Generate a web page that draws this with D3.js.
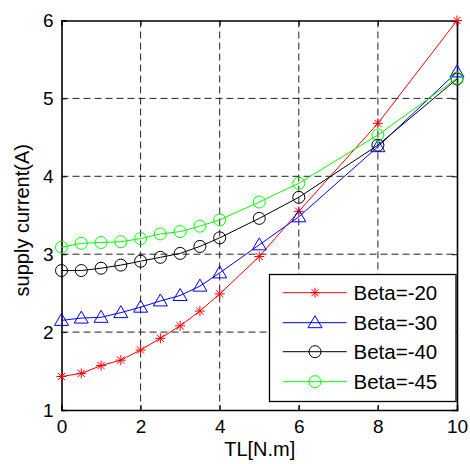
<!DOCTYPE html>
<html><head><meta charset="utf-8">
<script src="https://cdn.jsdelivr.net/npm/d3@7"></script>
<style>body{margin:0;background:#fff}svg{display:block}text{font-family:Arial,"Liberation Sans",sans-serif}</style>
</head><body>
<svg id="c" width="470" height="464"></svg>
<script>
const tl = [0, 0.5, 1, 1.5, 2, 2.5, 3, 3.5, 4, 5, 6, 8, 10];
const beta20 = [1.43, 1.47, 1.57, 1.64, 1.77, 1.92, 2.08, 2.27, 2.49, 2.97, 3.55, 4.68, 6.0];
const beta30 = [2.15, 2.18, 2.19, 2.25, 2.32, 2.40, 2.47, 2.59, 2.76, 3.12, 3.48, 4.38, 5.34];
const beta40 = [2.79, 2.79, 2.82, 2.86, 2.91, 2.96, 3.01, 3.10, 3.21, 3.46, 3.73, 4.40, 5.25];
const beta45 = [3.09, 3.14, 3.15, 3.16, 3.20, 3.26, 3.29, 3.36, 3.44, 3.67, 3.91, 4.53, 5.26];
const seriesNames = ["Beta=-20", "Beta=-30", "Beta=-40", "Beta=-45"];
const xTicks = [0, 2, 4, 6, 8, 10];
const yTicks = [1, 2, 3, 4, 5, 6];
const xLabel = "TL[N.m]";
const yLabel = "supply current(A)";

const series = [
  {name: seriesNames[0], values: beta20, color: "#ff0000", marker: "star"},
  {name: seriesNames[1], values: beta30, color: "#0000ff", marker: "tri"},
  {name: seriesNames[2], values: beta40, color: "#000000", marker: "circle"},
  {name: seriesNames[3], values: beta45, color: "#00ff00", marker: "circle"}
];

const L = 61.5, R = 457, T = 20.5, B = 410;
const svg = d3.select("#c");
const x = d3.scaleLinear().domain([0, 10]).range([L, R]);
const y = d3.scaleLinear().domain([1, 6]).range([B, T]);

// grid
const g = svg.append("g");
g.selectAll(".gx").data(xTicks.slice(1, -1)).enter().append("line")
  .attr("x1", d => x(d)).attr("x2", d => x(d)).attr("y1", T).attr("y2", B)
  .attr("stroke", "#222").attr("stroke-width", 1).attr("stroke-dasharray", "7,4");
g.selectAll(".gy").data(yTicks.slice(1, -1)).enter().append("line")
  .attr("y1", d => y(d)).attr("y2", d => y(d)).attr("x1", L).attr("x2", R)
  .attr("stroke", "#222").attr("stroke-width", 1).attr("stroke-dasharray", "7,4");

// axes (inward ticks, all four sides)
const tickLen = 5;
const axB = svg.append("g").attr("transform", `translate(0,${B})`)
  .call(d3.axisBottom(x).tickValues(xTicks).tickSize(-tickLen).tickPadding(10).tickFormat(d3.format("d")));
const axL = svg.append("g").attr("transform", `translate(${L},0)`)
  .call(d3.axisLeft(y).tickValues(yTicks).tickSize(-tickLen).tickPadding(8).tickFormat(d3.format("d")));
const axT = svg.append("g").attr("transform", `translate(0,${T})`)
  .call(d3.axisTop(x).tickValues(xTicks).tickSize(-tickLen).tickFormat(""));
const axR = svg.append("g").attr("transform", `translate(${R},0)`)
  .call(d3.axisRight(y).tickValues(yTicks).tickSize(-tickLen).tickFormat(""));
[axB, axL, axT, axR].forEach(a => {
  a.select(".domain").attr("stroke", "#000").attr("stroke-width", 1.6);
  a.selectAll(".tick line").attr("stroke", "#000");
  a.selectAll("text").attr("fill", "#000").style("font-size", "19px").style("font-family", "Arial, 'Liberation Sans', sans-serif");
});
axB.selectAll("text").attr("dy", "0.71em");

// labels
svg.append("text").attr("x", (L + R) / 2 + 0.5).attr("y", 456).attr("text-anchor", "middle")
  .style("font-size", "20px").text(xLabel);
svg.append("text").attr("transform", `translate(29,${(T + B) / 2 + 5}) rotate(-90)`).attr("text-anchor", "middle")
  .style("font-size", "20px").text(yLabel);

function drawMarker(sel, type, color, cx, cy) {
  if (type === "circle") {
    sel.append("circle").attr("cx", cx).attr("cy", cy).attr("r", 6)
      .attr("fill", "none").attr("stroke", color).attr("stroke-width", 1);
  } else if (type === "tri") {
    const h = 12, w = 14;
    sel.append("path").attr("d", `M${cx},${cy - h / 2 - 1}L${cx + w / 2},${cy + h / 2 - 1}L${cx - w / 2},${cy + h / 2 - 1}Z`)
      .attr("fill", "none").attr("stroke", color).attr("stroke-width", 1);
  } else {
    const r = 5, d = 3.6;
    sel.append("path").attr("d",
      `M${cx},${cy - r}V${cy + r}M${cx - r},${cy}H${cx + r}M${cx - d},${cy - d}L${cx + d},${cy + d}M${cx - d},${cy + d}L${cx + d},${cy - d}`)
      .attr("stroke", color).attr("stroke-width", 1).attr("fill", "none");
  }
}

const line = d3.line().x((d, i) => x(tl[i])).y(d => y(d));
series.forEach(s => {
  const sg = svg.append("g");
  sg.append("path").attr("d", line(s.values)).attr("fill", "none").attr("stroke", s.color).attr("stroke-width", 1);
  s.values.forEach((v, i) => drawMarker(sg, s.marker, s.color, x(tl[i]), y(v)));
});

// legend
const lg = svg.append("g");
const lx0 = 269.5, ly0 = 274.5, lw = 186.5, lh = 127;
lg.append("rect").attr("x", lx0).attr("y", ly0).attr("width", lw).attr("height", lh)
  .attr("fill", "#fff").attr("stroke", "#000").attr("stroke-width", 1.3);
const rowY = [292.7, 322.7, 351.7, 381.7];
series.forEach((s, i) => {
  const yy = rowY[i];
  lg.append("line").attr("x1", 282.7).attr("x2", 346.7).attr("y1", yy).attr("y2", yy)
    .attr("stroke", s.color).attr("stroke-width", 1);
  drawMarker(lg, s.marker, s.color, 315, yy);
  lg.append("text").attr("x", 353.5).attr("y", yy).attr("dy", "0.36em")
    .style("font-size", "20.5px").attr("fill", "#000").text(s.name);
});
</script>
</body></html>
